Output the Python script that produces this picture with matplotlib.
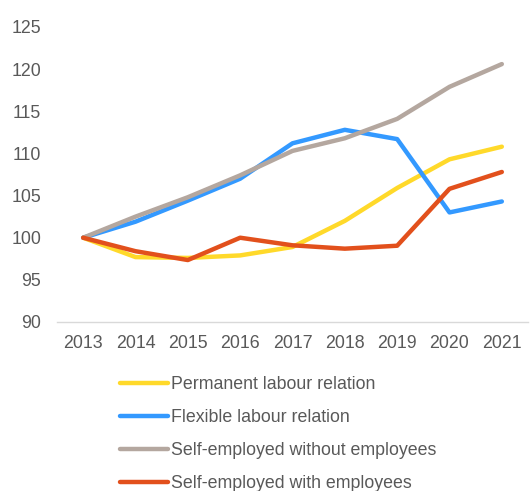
import matplotlib
matplotlib.use("Agg")
import matplotlib.pyplot as plt

years = ["2013", "2014", "2015", "2016", "2017", "2018", "2019", "2020", "2021"]
permanent = [100, 97.7, 97.6, 97.9, 98.9, 102.0, 105.9, 109.3, 110.8]
flexible = [100, 101.9, 104.4, 107.0, 111.2, 112.8, 111.7, 103.0, 104.3]
self_without = [100, 102.5, 104.8, 107.4, 110.3, 111.8, 114.1, 117.9, 120.6]
self_with = [100, 98.4, 97.35, 100.0, 99.1, 98.7, 99.05, 105.8, 107.8]

series = [
    ("Permanent labour relation", permanent, "#FFD92A"),
    ("Flexible labour relation", flexible, "#3399FF"),
    ("Self-employed without employees", self_without, "#B4A79F"),
    ("Self-employed with employees", self_with, "#E2501C"),
]

plt.rcParams["font.family"] = ["Liberation Sans", "DejaVu Sans"]
text_color = "#595959"
fs = 12.75

fig = plt.figure(figsize=(5.32, 4.91), dpi=100)
ax = fig.add_axes([57 / 532, 169 / 491, 471 / 532, 295 / 491])

x = list(range(len(years)))
for label, vals, color in series:
    ax.plot(x, vals, color=color, lw=3.2, label=label, solid_capstyle="round",
            solid_joinstyle="round")

ax.set_xlim(-0.5, len(years) - 0.5)
ax.set_ylim(90, 125)
ax.set_yticks(range(90, 126, 5))
ax.set_xticks(x)
ax.set_xticklabels(years)
ax.tick_params(axis="both", length=0, labelsize=fs, colors=text_color)
ax.tick_params(axis="x", pad=9.5)
ax.tick_params(axis="y", pad=11.5)
for s in ["top", "right", "left"]:
    ax.spines[s].set_visible(False)
ax.spines["bottom"].set_color("#D9D9D9")
ax.spines["bottom"].set_linewidth(1)

leg = fig.legend(loc="upper left", bbox_to_anchor=(120 / 532, 1 - 376 / 491),
                 frameon=False, fontsize=fs, handlelength=2.7, handletextpad=0.2,
                 labelspacing=0.9, borderpad=0, borderaxespad=0)
for t in leg.get_texts():
    t.set_color(text_color)

fig.savefig("out.png", dpi=100)
